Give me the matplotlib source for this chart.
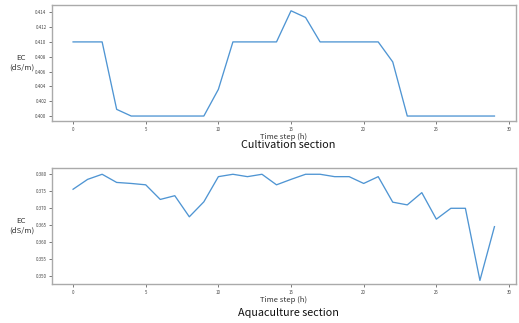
import matplotlib
matplotlib.use("Agg")
import matplotlib.pyplot as plt

plt.rcParams['font.family'] = ['Noto Sans CJK KR', 'DejaVu Sans']

time_steps = list(range(30))
cultivation_ec = [0.410, 0.410, 0.410, 0.4009, 0.400, 0.400, 0.400, 0.400, 0.400, 0.400,
                  0.4036, 0.410, 0.410, 0.410, 0.410, 0.4142, 0.4133, 0.410, 0.410, 0.410,
                  0.410, 0.410, 0.4073, 0.400, 0.400, 0.400, 0.400, 0.400, 0.400, 0.400]
aquaculture_ec = [0.3756, 0.3785, 0.3800, 0.3776, 0.3773, 0.3769, 0.3726, 0.3737, 0.3675, 0.3719,
                  0.3793, 0.3800, 0.3793, 0.3800, 0.3769, 0.3785, 0.3800, 0.3800, 0.3793, 0.3793,
                  0.3773, 0.3793, 0.3718, 0.3710, 0.3746, 0.3668, 0.3700, 0.3700, 0.3488, 0.3646]
titles = ["Cultivation section", "Aquaculture section"]
xlabel = "Time step (h)"
ylabel = "EC\n(dS/m)"
cult_yticks = [0.400, 0.402, 0.404, 0.406, 0.408, 0.410, 0.412, 0.414]
aqua_yticks = [0.350, 0.355, 0.360, 0.365, 0.370, 0.375, 0.380]
xticks = [0, 5, 10, 15, 20, 25, 30]

fig = plt.figure(figsize=(5.19, 3.23), dpi=100)
ax1 = fig.add_axes([0.1002, 0.6254, 0.8931, 0.3582])
ax2 = fig.add_axes([0.1002, 0.1207, 0.8931, 0.3583])

line_color = '#4f95d3'
for ax, data, yt, ttl, tity in [(ax1, cultivation_ec, cult_yticks, titles[0], 0.5505),
                                 (ax2, aquaculture_ec, aqua_yticks, titles[1], 0.031)]:
    ax.plot(time_steps, data, color=line_color, lw=0.95)
    ax.set_xticks(xticks)
    ax.set_yticks(yt)
    ax.set_yticklabels([f"{v:.3f}" for v in yt])
    ax.tick_params(labelsize=3.2, length=2, width=0.5, colors='#444444', pad=2)
    for s in ax.spines.values():
        s.set_color('#aaaaaa')
        s.set_linewidth(1.0)
    ax.set_xlabel(xlabel, fontsize=5.5, labelpad=1, color='#333333')
    ax.set_ylabel(ylabel, fontsize=5.6, rotation=0, color='#333333',
                  ha='center', va='center')
    ax.yaxis.set_label_coords(-0.066, 0.505)
    fig.text(0.555, tity, ttl, ha='center', va='center', fontsize=7.8, color='#111111')

ax1.set_ylim(0.39933, 0.41494)
ax2.set_ylim(0.34774, 0.38176)
ax1.set_xlim(-1.45, 30.45)
ax2.set_xlim(-1.45, 30.45)

fig.savefig("out.png", dpi=100)
